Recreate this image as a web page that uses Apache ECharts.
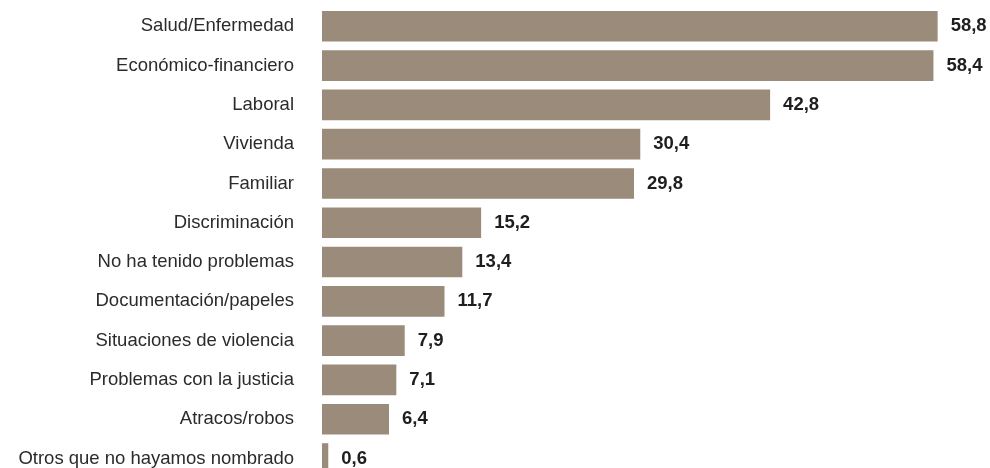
<!DOCTYPE html>
<html>
<head>
<meta charset="utf-8">
<script src="https://cdn.jsdelivr.net/npm/echarts@6/dist/echarts.min.js"></script>
<style>
html,body{margin:0;padding:0;background:#fff;}
#chart{width:990px;height:468px;}
</style>
</head>
<body>
<div id="chart"></div>
<script>
const categories = [
  'Salud/Enfermedad',
  'Económico-financiero',
  'Laboral',
  'Vivienda',
  'Familiar',
  'Discriminación',
  'No ha tenido problemas',
  'Documentación/papeles',
  'Situaciones de violencia',
  'Problemas con la justicia',
  'Atracos/robos',
  'Otros que no hayamos nombrado'
];
const values = [58.8, 58.4, 42.8, 30.4, 29.8, 15.2, 13.4, 11.7, 7.9, 7.1, 6.4, 0.6];

const chart = echarts.init(document.getElementById('chart'));
chart.setOption({
  animation: false,
  grid: { left: 322, top: 26.3, width: 628.2, height: 432.3, containLabel: false },
  xAxis: {
    type: 'value', min: 0, max: 60,
    show: false
  },
  yAxis: {
    type: 'category',
    data: categories,
    inverse: true,
    boundaryGap: false,
    axisLine: { show: false },
    axisTick: { show: false },
    splitLine: { show: false },
    axisLabel: {
      margin: 28,
      color: '#2b2b2b',
      fontFamily: '"Liberation Sans", Arial, Helvetica, sans-serif',
      fontSize: 18.5
    }
  },
  series: [{
    type: 'bar',
    data: values,
    barWidth: 30.6,
    clip: false,
    itemStyle: { color: '#9b8b7b' },
    label: {
      show: true,
      position: 'right',
      distance: 13,
      color: '#1e1e1e',
      fontWeight: 'bold',
      fontFamily: '"Liberation Sans", Arial, Helvetica, sans-serif',
      fontSize: 18.5,
      formatter: p => p.value.toFixed(1).replace('.', ',')
    }
  }]
});
</script>
</body>
</html>
